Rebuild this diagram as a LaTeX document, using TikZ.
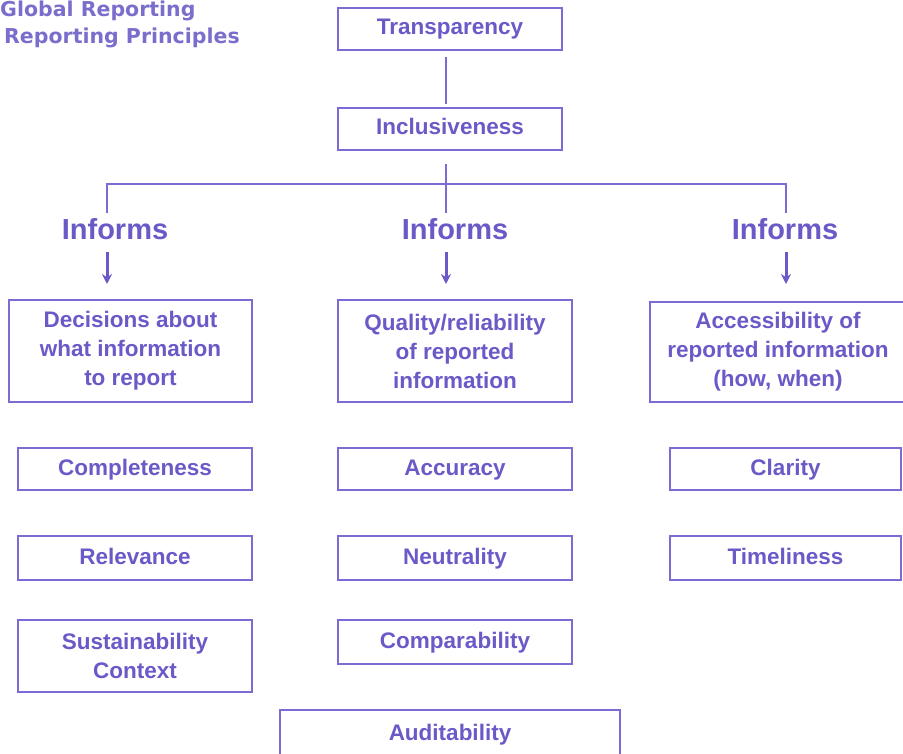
\documentclass[tikz,border=0pt]{standalone}
\usepackage{fontspec}
\setmainfont{Liberation Sans}
\newfontfamily\titlefam{DejaVu Sans}
\usetikzlibrary{arrows.meta}
\definecolor{sb}{RGB}{106,90,200}
\definecolor{bd}{RGB}{122,108,212}
\definecolor{tc}{RGB}{122,110,205}
\begin{document}
\begin{tikzpicture}[x=1pt,y=-1pt,
  box/.style={draw=bd, line width=1.8pt, text=sb, font=\fontsize{22.5}{29}\selectfont\bfseries, align=center, inner sep=0pt},
  one/.style={box, text height=16pt, text depth=4pt},
  conn/.style={draw=bd, line width=1.8pt},
  arr/.style={draw=sb, line width=3pt, -{Stealth[length=10pt,width=10pt]}},
  inf/.style={text=sb, font=\fontsize{29}{32}\selectfont\bfseries, anchor=base, inner sep=0pt},
  ttl/.style={text=tc, font=\titlefam\fontsize{20.5}{24}\selectfont\bfseries, anchor=base west, inner sep=0pt}]
\useasboundingbox (0,0) rectangle (903,754);
\clip (0,0) rectangle (903,754);

\node[ttl] (t1) at (0,17) {Global Reporting};
\node[ttl] (t2) at (4,44) {Reporting Principles};

\node[one, minimum width=224pt, minimum height=42pt] (T) at (450,29) {Transparency};
\node[one, minimum width=224pt, minimum height=42pt] (I) at (450,129) {Inclusiveness};

\node[box, minimum width=243pt, minimum height=102pt] (D) at (130.5,351) {Decisions about\\what information\\to report};
\node[box, minimum width=234pt, minimum height=102pt] (Q) at (455,351) {Quality/reliability\\of reported\\information};
\node[box, minimum width=256pt, minimum height=100pt] (A) at (778,352) {Accessibility of\\reported information\\(how, when)};

\node[one, minimum width=234pt, minimum height=42pt] (c1) at (135,469) {Completeness};
\node[one, minimum width=234pt, minimum height=42pt] (c2) at (455,469) {Accuracy};
\node[one, minimum width=231pt, minimum height=42pt] (c3) at (785.5,469) {Clarity};

\node[one, minimum width=234pt, minimum height=44pt] (r1) at (135,558) {Relevance};
\node[one, minimum width=234pt, minimum height=44pt] (r2) at (455,558) {Neutrality};
\node[one, minimum width=231pt, minimum height=44pt] (r3) at (785.5,558) {Timeliness};

\node[box, minimum width=234pt, minimum height=72pt] (s1) at (135,656) {Sustainability\\Context};
\node[one, minimum width=234pt, minimum height=44pt] (s2) at (455,642) {Comparability};

\node[one, minimum width=340pt, minimum height=49pt] (au) at (450,734.5) {Auditability};

% connectors
\coordinate (JL) at (107,184);
\coordinate (JR) at (786,184);
\coordinate (dL) at (107,213);
\coordinate (dM) at (446,213);
\coordinate (dR) at (786,213);
\draw[conn] ([xshift=-4pt,yshift=-6pt]T.south) -- ([xshift=-4pt,yshift=3pt]I.north);
\draw[conn] ([xshift=-4pt,yshift=-13pt]I.south) -- (dM);
\draw[conn] (dL) -- (JL) -- (JR) -- (dR);

\node[inf] (i1) at (115,240) {Informs};
\node[inf] (i2) at (455,240) {Informs};
\node[inf] (i3) at (785,240) {Informs};

\coordinate (a1) at (107,252);
\coordinate (a2) at (446,252);
\coordinate (a3) at (786,252);
\coordinate (b1) at (107,284);
\coordinate (b2) at (446,284);
\coordinate (b3) at (786,284);
\draw[arr] (a1) -- (b1);
\draw[arr] (a2) -- (b2);
\draw[arr] (a3) -- (b3);
\end{tikzpicture}
\end{document}
